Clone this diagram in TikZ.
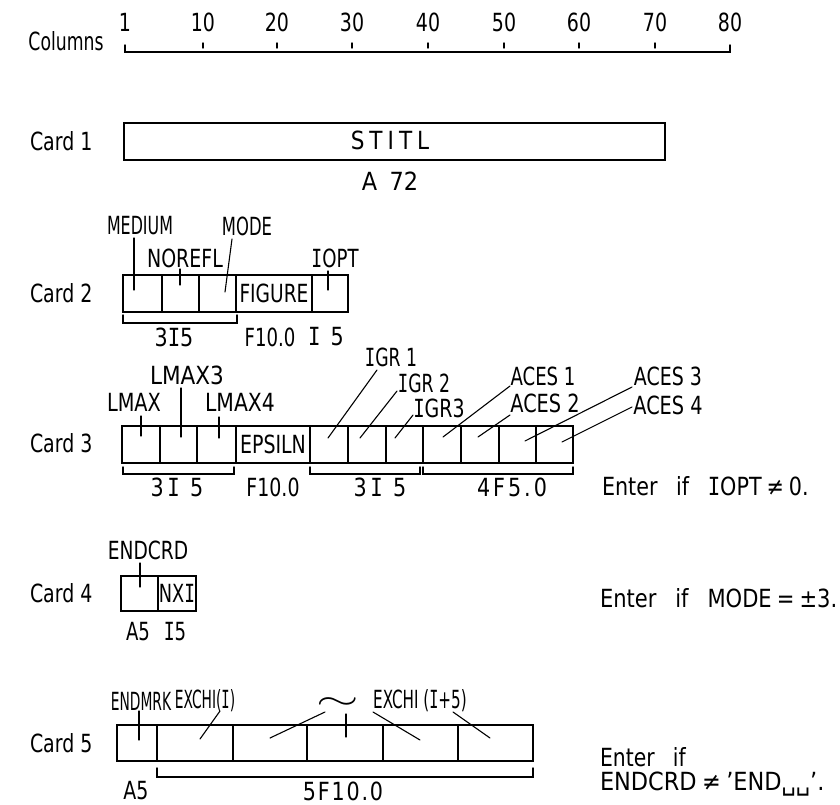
\documentclass[tikz,border=0pt]{standalone}
\usepackage{fontspec}
\setmainfont[FakeStretch=0.69]{DejaVu Sans}
\newfontfamily\monoI[FakeStretch=0.69]{DejaVu Sans Mono}
\newcommand\myfs{\fontsize{25}{27}\selectfont}
\newcommand\lsp[1]{\hspace{#1pt}}
\newcommand\Is{{\monoI I}}
\begin{document}
\begin{tikzpicture}[x=1pt,y=-1pt,line cap=round,
  every node/.style={inner sep=0pt,outer sep=0pt,font=\myfs},
  cell/.style={draw,line width=1.6pt,minimum height=37pt},
  lead/.style={line width=1.1pt},
  brk/.style={line width=1.4pt},
  rul/.style={line width=1.4pt}]
\useasboundingbox (0,0) rectangle (840,805);
% ---------- ruler ----------
\node (cols) at (66,41) {Columns};
\foreach \t/\x in {1/125,10/203,20/277,30/352,40/428,50/504,60/579,70/655,80/730}{
  \node[xscale=1.1] (n\t) at (\x,22) {\t};
}
\coordinate (rL) at (125,52); \coordinate (rR) at (730,52);
\coordinate (rLt) at (125,45); \coordinate (rRt) at (730,45);
\draw[rul] (rLt) -- (rL) -- (rR) -- (rRt);
\foreach \x in {203,277,352,428,504,579,655}{ \draw[rul] (\x,43) -- (\x,48); }
% ---------- card labels ----------
\foreach \k/\y in {1/141,2/293,3/443,4/593,5/743}{
  \node[anchor=west,xscale=1.1] (card\k) at (30,\y) {Card \k};
}
% ---------- Card 1 ----------
\node[cell,minimum width=541pt] (c1) at (394.5,141.5) {};
\node[xscale=1.25] (t1) at (390,140) {S\lsp4T\lsp4I\lsp4T\lsp4L};
\node[xscale=1.3] (f1) at (390,181) {A\lsp4 72};
% ---------- Card 2 ----------
\node[cell,minimum width=39pt] (c2a) at (142.5,293.5) {};
\node[cell,minimum width=37pt] (c2b) at (180.5,293.5) {};
\node[cell,minimum width=37pt] (c2c) at (217.5,293.5) {};
\node[cell,minimum width=76pt] (c2d) at (274,293.5) {};
\node[cell,minimum width=36pt] (c2e) at (330,293.5) {};
\node[xscale=1.08] (t2d) at (c2d) {FIGURE};
\node[xscale=0.92] (lMEDIUM) at (140,226) {MEDIUM};
\node[xscale=0.95] (lMODE) at (247,226) {MODE};
\node[xscale=1.1] (lNOREFL) at (185,258) {NOREFL};
\node[xscale=1.05] (lIOPT) at (335,258) {\Is OPT};
\draw[brk] (123,315) |- (237,323) -- (237,315);
\node[xscale=1.2] (f2a) at (174,337) {3\Is 5};
\node[xscale=1.05] (f2b) at (270,337) {F10.0};
\node[xscale=1.2] (f2c) at (326,337) {\Is\lsp3 5};
% ---------- Card 3 ----------
\foreach \n/\a/\b in {a/122/160,b/160/197,c/197/236,d/236/310,e/310/348,f/348/386,g/386/423,h/423/461,i/461/499,j/499/536,k/536/573}{
  \pgfmathsetmacro\cx{(\a+\b)/2}\pgfmathsetmacro\w{\b-\a}
  \node[cell,minimum width=\w pt] (c3\n) at (\cx,444.5) {};
}
\node[xscale=1.1] (t3d) at (c3d) {EPSILN};
\node[xscale=1.12] (lLMAX) at (134,402) {LMAX};
\node[xscale=1.25] (lLMAXc) at (187,375) {LMAX3};
\node[xscale=1.18] (lLMAXd) at (240,402) {LMAX4};
\node (lIGRa) at (391,357) {\Is GR 1};
\node (lIGRb) at (424,383) {\Is GR 2};
\node[xscale=1.1] (lIGRc) at (439,408) {\Is GR3};
\node[xscale=1.05] (lACESa) at (543,376) {ACES 1};
\node[xscale=1.12] (lACESb) at (545,403) {ACES 2};
\node[xscale=1.1] (lACESc) at (668,376) {ACES 3};
\node[xscale=1.12] (lACESd) at (668,405) {ACES 4};
\draw[brk] (123,467) |- (234,474) -- (234,467);
\draw[brk] (310,467) |- (420,474) -- (420,467);
\draw[brk] (423,467) |- (573,474) -- (573,467);
\node[xscale=1.2] (f3a) at (177,487) {3\lsp3\Is\lsp3 5};
\node[xscale=1.1] (f3b) at (273,487) {F10.0};
\node[xscale=1.2] (f3c) at (380,487) {3\lsp3\Is\lsp3 5};
\node[xscale=1.2] (f3d) at (512,487) {4\lsp{2.5}F\lsp{2.5}5\lsp{2.5}.\lsp{2.5}0};
\node[anchor=west,xscale=1.2] (e3) at (602,486) {Enter\hspace{0.4em} if\hspace{0.4em} \Is OPT\,≠\,0.};
% ---------- Card 4 ----------
\node[cell,minimum width=37pt,minimum height=35pt] (c4a) at (139.5,593.5) {};
\node[cell,minimum width=38pt,minimum height=35pt] (c4b) at (177,593.5) {};
\node[xscale=1.03] (t4b) at (c4b) {NX\Is};
\node[xscale=1.08] (lENDCRD) at (148,550) {ENDCRD};
\node[xscale=1.05] (f4a) at (138,632) {A5};
\node[xscale=1.05] (f4b) at (175,632) {\Is 5};
\node[anchor=west,xscale=1.22] (e4) at (600,598) {Enter\hspace{0.4em} if\hspace{0.4em} MODE\,=\,±3.};
% ---------- Card 5 ----------
\foreach \n/\a/\b in {a/117/157,b/157/233,c/233/307,d/307/383,e/383/458,f/458/533}{
  \pgfmathsetmacro\cx{(\a+\b)/2}\pgfmathsetmacro\w{\b-\a}
  \node[cell,minimum width=\w pt,minimum height=36pt] (c5\n) at (\cx,743) {};
}
\node[xscale=0.8] (lENDMRK) at (141,701) {ENDMRK};
\node[xscale=0.8] (lEXa) at (205,701) {EXCHI(\Is)};
\node[xscale=2.2,yscale=1.3] (ltilde) at (338,704) {$\sim$};
\node[xscale=0.88] (lEXb) at (420,701) {EXCHI (\Is+5)};
\draw[brk] (157,768) |- (533,777) -- (533,768);
\node[xscale=1.1] (f5a) at (136,791) {A5};
\node[xscale=1.2] (f5b) at (343,791) {5\lsp{1.5}F\lsp{1.5}1\lsp{1.5}0\lsp{1.5}.\lsp{1.5}0};
\node[anchor=west,xscale=1.18] (e5a) at (600,757) {Enter\hspace{0.4em} if};
\node[anchor=west,xscale=1.3] (e5b) at (600,784) {ENDCRD\,≠\,'END␣␣'.};
% ---------- leader lines ----------
\foreach \n/\xa/\ya/\xb/\yb in {
  MEa/134/238/134/290, NOa/180/269/180/285, MOa/232/239/225/292, IOa/328/271/328/290,
  LMa/141/416/141/436, LMc/181/388/181/437, LMd/219/417/219/438,
  IGa/377/370/328/438, IGb/397/391/360/438, IGc/413/415/395/438,
  ACa/510/386/443/437, ACb/510/415/478/437, ACc/632/387/525/441, ACd/632/407/562/442,
  ENa/140/563/140/587,
  EMa/139/711/139/740, EXa/220/711/200/739, TIa/325/712/270/738, TIb/346/714/346/737,
  TIc/373/712/420/740, EXb/453/712/490/738}{
  \coordinate (\n s) at (\xa,\ya); \coordinate (\n e) at (\xb,\yb);
  \draw[lead] (\n s) -- (\n e);
}
\end{tikzpicture}
\end{document}
